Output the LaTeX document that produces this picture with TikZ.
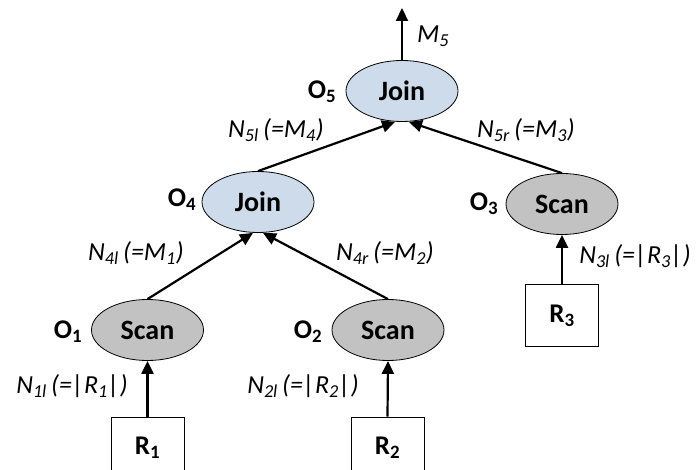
\documentclass[tikz,border=0pt]{standalone}
\usepackage{fontspec}
\setmainfont{Carlito}
\usetikzlibrary{shapes.geometric,arrows.meta}
\newcommand\mysub[1]{\textsubscript{#1}}
\begin{document}
\begin{tikzpicture}[x=1pt,y=-1pt,
  opjoin/.style={ellipse,draw=black,line width=0.8pt,fill={rgb,255:red,206;green,219;blue,234},minimum width=112pt,minimum height=61pt,inner sep=0pt,font=\fontsize{28}{30}\selectfont\bfseries},
  opscan/.style={ellipse,draw=black,line width=0.8pt,fill={rgb,255:red,194;green,194;blue,194},minimum width=112pt,minimum height=61pt,inner sep=0pt,font=\fontsize{28}{30}\selectfont\bfseries},
  rel/.style={rectangle,draw=black,line width=0.8pt,fill=white,minimum width=73pt,minimum height=62pt,inner sep=0pt,font=\fontsize{27}{30}\selectfont\bfseries},
  oplab/.style={font=\fontsize{27}{30}\selectfont\bfseries,inner sep=0pt},
  elab/.style={font=\fontsize{26}{28}\selectfont\itshape,inner sep=0pt},
  flow/.style={line width=2.2pt,-{Triangle[length=13pt,width=12pt]}}]
\useasboundingbox (0,0) rectangle (696,470);
\clip (0,0) rectangle (696,470);
% operators
\node[opjoin] (o5) at (402,91) {Join};
\node[opjoin] (o4) at (258,202) {Join};
\node[opscan] (o3) at (562,204) {Scan};
\node[opscan] (o1) at (147.5,330) {Scan};
\node[opscan] (o2) at (388,330) {Scan};
% relations
\node[rel] (r1) at (147.5,448) {R\mysub{1}};
\node[rel] (r2) at (387.5,448) {R\mysub{2}};
\node[rel] (r3) at (562,315.5) {R\mysub{3}};
% operator labels
\node[oplab] (l5) at (322,92) {O\mysub{5}};
\node[oplab] (l4) at (182,200) {O\mysub{4}};
\node[oplab] (l3) at (484,204) {O\mysub{3}};
\node[oplab] (l1) at (68,332) {O\mysub{1}};
\node[oplab] (l2) at (308,332) {O\mysub{2}};
% connectors
\coordinate (top) at (402,8);
\draw[flow] (o5.north) -- (top);
\draw[flow] (o4.north) -- ([xshift=-7pt]o5.south);
\draw[flow] (o3.north) -- ([xshift=7pt]o5.south);
\draw[flow] (o1.north) -- ([xshift=-5pt]o4.south);
\draw[flow] (o2.north) -- ([xshift=5pt]o4.south);
\draw[flow] (r1.north) -- (o1.south);
\draw[flow] (r2.north) -- (o2.south);
\draw[flow] (r3.north) -- (o3.south);
% flow labels
\node[elab] (m5) at (433,36) {M\mysub{5}};
\node[elab] (n5l) at (276,130) {N\mysub{5l}\,(=M\mysub{4})};
\node[elab] (n5r) at (526,130) {N\mysub{5r}\,(=M\mysub{3})};
\node[elab] (n4l) at (136,253) {N\mysub{4l}\,(=M\mysub{1})};
\node[elab] (n4r) at (385,253) {N\mysub{4r}\,(=M\mysub{2})};
\node[elab] (n1l) at (72,386) {N\mysub{1l}\,(=|R\mysub{1}|)};
\node[elab] (n2l) at (303,386) {N\mysub{2l}\,(=|R\mysub{2}|)};
\node[elab] (n3l) at (635,256) {N\mysub{3l}\,(=|R\mysub{3}|)};
\end{tikzpicture}
\end{document}
